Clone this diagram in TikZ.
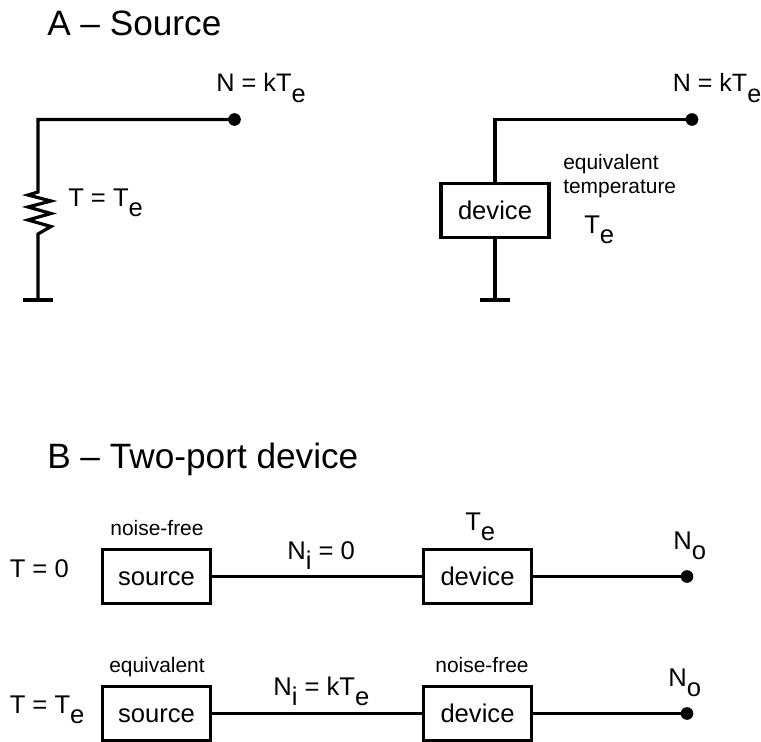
\documentclass[tikz,border=0pt]{standalone}
\usepackage{fontspec}
\setmainfont{Liberation Sans}
\newcommand{\lowsub}[1]{\raisebox{-0.41em}{#1}}
\tikzset{
  wire/.style={line width=2.4pt, line join=miter},
  boxnode/.style={draw, line width=2.4pt, minimum width=81pt, minimum height=40.5pt, inner sep=0pt, font=\fontsize{19.2}{21}\selectfont, text height=14pt, text depth=0pt},
  dotnode/.style={circle, fill=black, minimum size=9.5pt, inner sep=0pt},
  head/.style={anchor=base west, inner sep=0pt, font=\fontsize{26.4}{29}\selectfont},
  lab/.style={anchor=base west, inner sep=0pt, font=\fontsize{19.2}{21}\selectfont},
  small/.style={anchor=base, inner sep=0pt, font=\fontsize{15.7}{18}\selectfont}
}
\begin{document}
\begin{tikzpicture}[x=0.75pt,y=-0.75pt]
\useasboundingbox (0,0) rectangle (761,742);
% headings
\node[head] (hA) at (47,36) {A – Source};
\node[head] (hB) at (47,468) {B – Two-port device};
% A left
\node[dotnode] (d1) at (234.5,119.5) {};
\coordinate (c1) at (38,119.5);
\coordinate (r1) at (38,192);
\coordinate (r2) at (38,234);
\coordinate (g1) at (38,300);
\coordinate (g1l) at (23,300);
\coordinate (g1r) at (53,300);
\draw[wire] (d1.center) -- (c1) -- (r1) -- (28,195) -- (51,201) -- (28,207) -- (51,213.5) -- (28,220) -- (51,226.5) -- (r2) -- (g1);
\draw[wire] (g1l) -- (g1r);
\node[lab,font=\fontsize{19}{21}\selectfont] (n1) at (216,92) {N = kT\lowsub{e}};
\node[lab] (t1) at (68,206) {T = T\lowsub{e}};
% A right
\node[boxnode] (dev0) at (495,210.5) {device};
\node[dotnode] (d2) at (692,119.5) {};
\coordinate (c2) at (495,119.5);
\coordinate (g2) at (495,300);
\coordinate (g2l) at (480,300);
\coordinate (g2r) at (510,300);
\draw[wire] (d2.center) -- (c2) -- (dev0.north);
\draw[wire] (dev0.south) -- (g2);
\draw[wire] (g2l) -- (g2r);
\node[lab,font=\fontsize{18.8}{21}\selectfont] (n2) at (672.5,92) {N = kT\lowsub{e}};
\node[small,anchor=base west] (e1) at (563,169) {equivalent};
\node[small,anchor=base west] (e2) at (563,194) {temperature};
\node[lab] (t2) at (584,233) {T\lowsub{e}};
% B row 1
\node[boxnode] (s1) at (156.5,576.5) {source};
\node[boxnode] (v1) at (477.5,576.5) {device};
\node[dotnode] (o1) at (687,576.5) {};
\draw[wire] (s1.east) -- (v1.west);
\draw[wire] (v1.east) -- (o1.center);
\node[small] (nf1) at (157,535) {noise-free};
\node[lab] (tz) at (9.5,577) {T = 0};
\node[lab] (ni1) at (287,559) {N\lowsub{i} = 0};
\node[lab] (te1) at (465,530) {T\lowsub{e}};
\node[lab] (no1) at (673,549) {N\lowsub{o}};
% B row 2
\node[boxnode] (s2) at (156.5,713.5) {source};
\node[boxnode] (v2) at (477.5,713.5) {device};
\node[dotnode] (o2) at (687,713.5) {};
\draw[wire] (s2.east) -- (v2.west);
\draw[wire] (v2.east) -- (o2.center);
\node[small] (eq2) at (157,672.5) {equivalent};
\node[small] (nf2) at (482,672.5) {noise-free};
\node[lab] (tt) at (9.5,713) {T = T\lowsub{e}};
\node[lab] (ni2) at (273,695) {N\lowsub{i} = kT\lowsub{e}};
\node[lab] (no2) at (668,686) {N\lowsub{o}};
\end{tikzpicture}
\end{document}
